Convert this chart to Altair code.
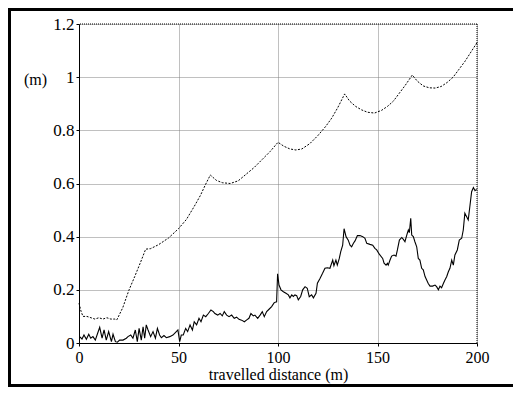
import altair as alt
import pandas as pd

# Upper (dashed) curve
dash_d = [0, 1, 2, 4, 6, 8, 10, 12, 14, 16, 18, 19, 22, 25, 28, 31, 33.5, 36, 40, 45, 50, 54, 58, 61, 63.5, 66,
          69, 72, 76, 80, 84, 88, 92, 96, 100, 103, 106, 109, 112, 116, 120, 124, 127, 130, 133.5,
          136, 139, 142, 145, 148.5, 152, 155, 158, 161, 164, 167.5, 170, 173, 176, 179, 182, 185,
          188, 191, 194, 197, 200]
dash_v = [0.15, 0.12, 0.10, 0.10, 0.095, 0.09, 0.095, 0.09, 0.095, 0.09, 0.09, 0.087, 0.133, 0.197, 0.25,
          0.305, 0.353, 0.355, 0.37, 0.395, 0.43, 0.465, 0.515, 0.555, 0.595, 0.632,
          0.612, 0.603, 0.60, 0.61, 0.635, 0.66, 0.69, 0.72, 0.755, 0.74, 0.73, 0.726, 0.73, 0.75,
          0.78, 0.815, 0.846, 0.885, 0.937, 0.91, 0.89, 0.877, 0.868, 0.865, 0.875, 0.89, 0.91,
          0.94, 0.97, 1.008, 0.985, 0.967, 0.96, 0.959, 0.965, 0.98, 1.0, 1.03, 1.06, 1.095, 1.13]

# Lower (solid) curve
solid_d = [0.3, 1.5, 2.5, 3.7, 4.9, 5.9, 7.0, 8.2, 9.2, 10.4, 11.6, 12.6, 13.7, 14.9, 16.3, 17.1, 18.3,
           19.3, 20.4, 22.1, 23.8, 24.6, 26.0, 27.1, 28.3, 29.3, 30.2, 31.3, 32.2, 33.0, 33.8, 34.7,
           36.0, 37.2, 38.4, 39.4, 40.5, 41.4, 42.7, 43.9, 45.6, 47.2, 48.9, 49.7, 50.6, 51.4,
           52.4, 53.6, 54.6, 55.8, 57.0, 57.9, 59.1, 60.3, 61.3, 62.5, 63.7, 65.0, 66.3, 67.5, 68.3,
           69.7, 70.9, 72.0, 73.0, 74.2, 75.4, 76.7, 78.0, 79.2, 80.4, 81.7, 83.1, 84.3, 85.4, 86.4,
           87.6, 88.4, 89.8, 91.0, 92.1, 93.1, 94.3, 95.5, 96.8, 98.1, 99.3, 99.8, 100.5, 101.5,
           102.7, 104.0, 105.2, 106.0, 106.9, 107.7, 108.5, 109.4, 110.2, 111.4, 112.4, 113.6, 114.7,
           115.7, 116.9, 117.8, 119.1, 119.8, 121.1, 122.4, 123.6, 124.8, 126.1, 127.5, 128.1, 129.1,
           129.8, 130.8, 131.5, 132.5, 133.2, 134.2, 135.3, 136.2, 137.0, 137.9, 138.7, 139.9, 141.2,
           142.6, 143.7, 144.6, 146.2, 147.6, 148.7, 149.6, 150.9, 152.6, 153.3, 154.3, 155.0, 155.4,
           156.3, 157.1, 158.3, 159.3, 160.0, 161.0, 162.2, 163.0, 163.8, 164.7, 165.5, 166.0, 166.7,
           167.2, 168.0, 168.8, 169.7, 170.5, 171.3, 172.2, 173.0, 173.9, 174.7, 175.5, 176.4, 177.7,
           178.9, 179.7, 180.6, 181.4, 182.2, 183.1, 183.9, 184.8, 185.6, 186.4, 187.3, 188.1, 188.9,
           190.1, 191.1, 192.3, 193.1, 193.9, 194.8, 195.6, 196.5, 197.3, 198.2, 199.0, 199.8]
solid_v = [0.024, 0.015, 0.030, 0.014, 0.033, 0.018, 0.024, 0.011, 0.033, 0.059, 0.018, 0.049, 0.011,
           0.043, 0.005, 0.033, 0.005, 0.003, 0.011, 0.011, 0.018, 0.024, 0.030, 0.018, 0.049, 0.005,
           0.055, 0.011, 0.061, 0.018, 0.068, 0.049, 0.024, 0.043, 0.018, 0.055, 0.030, 0.020, 0.028,
           0.020, 0.024, 0.030, 0.043, 0.049, 0.005, 0.030,
           0.030, 0.055, 0.043, 0.068, 0.049, 0.080, 0.068, 0.093, 0.080, 0.105, 0.099, 0.111, 0.124,
           0.118, 0.111, 0.105, 0.111, 0.102, 0.118, 0.105, 0.099, 0.105, 0.093, 0.097, 0.089, 0.086,
           0.080, 0.087, 0.093, 0.111, 0.102, 0.105, 0.093, 0.105, 0.118, 0.099, 0.118, 0.127, 0.137,
           0.152, 0.155, 0.26, 0.218, 0.20,
           0.193, 0.187, 0.181, 0.170, 0.181, 0.175, 0.181, 0.178, 0.162, 0.175, 0.200, 0.212, 0.206,
           0.174, 0.181, 0.170, 0.187, 0.225, 0.243, 0.262, 0.281, 0.283, 0.281, 0.312, 0.291, 0.312,
           0.293, 0.318, 0.343, 0.368, 0.43, 0.40, 0.387, 0.368, 0.362, 0.375, 0.384, 0.404, 0.404,
           0.400, 0.394, 0.375, 0.371, 0.368, 0.356, 0.350, 0.334, 0.318, 0.300, 0.293, 0.300, 0.293,
           0.312, 0.327, 0.331, 0.327, 0.350, 0.387, 0.397, 0.390, 0.381, 0.406, 0.425, 0.415, 0.469,
           0.406, 0.400, 0.381, 0.362, 0.318, 0.312, 0.281, 0.275, 0.250, 0.237, 0.224, 0.214, 0.214,
           0.218, 0.212, 0.200, 0.214, 0.208, 0.224, 0.237, 0.250, 0.268, 0.281, 0.312, 0.293, 0.331,
           0.350, 0.387, 0.394, 0.425, 0.488, 0.475, 0.463, 0.519, 0.569, 0.585, 0.573, 0.578]

x_ticks = [0, 50, 100, 150, 200]
y_ticks = [0, 0.2, 0.4, 0.6, 0.8, 1.0, 1.2]

FONT = "Liberation Serif"
W, H = 398, 319
PAD = {"left": 71, "top": 16, "right": 36, "bottom": 44}
FW = W + PAD["right"]          # right end of frame lines (svg edge)
FB = H + PAD["bottom"] - 1.5   # bottom frame line

dash_df = pd.DataFrame({"d": dash_d, "v": dash_v})
solid_df = pd.DataFrame({"d": solid_d, "v": solid_v})

xscale = alt.Scale(domain=[0, 200], nice=False, zero=False)
yscale = alt.Scale(domain=[0, 1.2], nice=False, zero=False)

xaxis = alt.Axis(values=x_ticks, title="travelled distance (m)", labelFlush=False,
                 labelExpr="datum.value", grid=True, tickSize=3, labelPadding=3,
                 titlePadding=1, titleFontSize=16, labelFontSize=16)
yaxis = alt.Axis(values=y_ticks, title="(m)", titleAngle=0, titleX=-44, titleY=55,
                 titleAlign="center", titleBaseline="middle", labelExpr="datum.value",
                 grid=True, tickSize=3, labelPadding=2, labelFlush=False,
                 titleFontSize=16, labelFontSize=17)

dashed = alt.Chart(dash_df).mark_line(color="black", strokeWidth=1, strokeDash=[2, 1.5]).encode(
    x=alt.X("d:Q", scale=xscale, axis=xaxis),
    y=alt.Y("v:Q", scale=yscale, axis=yaxis),
)
solid = alt.Chart(solid_df).mark_line(color="black", strokeWidth=1.1).encode(
    x=alt.X("d:Q", scale=xscale),
    y=alt.Y("v:Q", scale=yscale),
)
top_rule = alt.Chart().mark_rule(color="black", strokeDash=[1, 1], strokeWidth=1).encode(
    y=alt.datum(1.2, scale=yscale))
right_rule = alt.Chart().mark_rule(color="black", strokeDash=[1, 1], strokeWidth=1).encode(
    x=alt.datum(200, scale=xscale))

frame_style = dict(color="black", strokeWidth=3)
frame_left = alt.Chart().mark_rule(**frame_style).encode(
    x=alt.value(-PAD["left"] + 1.5), y=alt.value(-PAD["top"]), y2=alt.value(H + PAD["bottom"]))
frame_top = alt.Chart().mark_rule(**frame_style).encode(
    y=alt.value(-PAD["top"] + 1.5), x=alt.value(-PAD["left"]), x2=alt.value(FW))
frame_bottom = alt.Chart().mark_rule(**frame_style).encode(
    y=alt.value(FB), x=alt.value(-PAD["left"]), x2=alt.value(FW))

chart = alt.layer(top_rule, right_rule, dashed, solid, frame_left, frame_top, frame_bottom).properties(
    width=W, height=H, padding=PAD, autosize=alt.AutoSizeParams(type="none"),
    background="white",
).configure_view(stroke=None).configure_axis(
    labelFont=FONT, titleFont=FONT,
    labelColor="black", titleColor="black", titleFontWeight="normal",
    domainColor="black", domainWidth=1, tickColor="black",
    gridColor="#808080", gridDash=[1, 1], gridWidth=1, gridOpacity=1,
)

chart.save("out.html", embed_options={"renderer": "svg", "actions": False})
